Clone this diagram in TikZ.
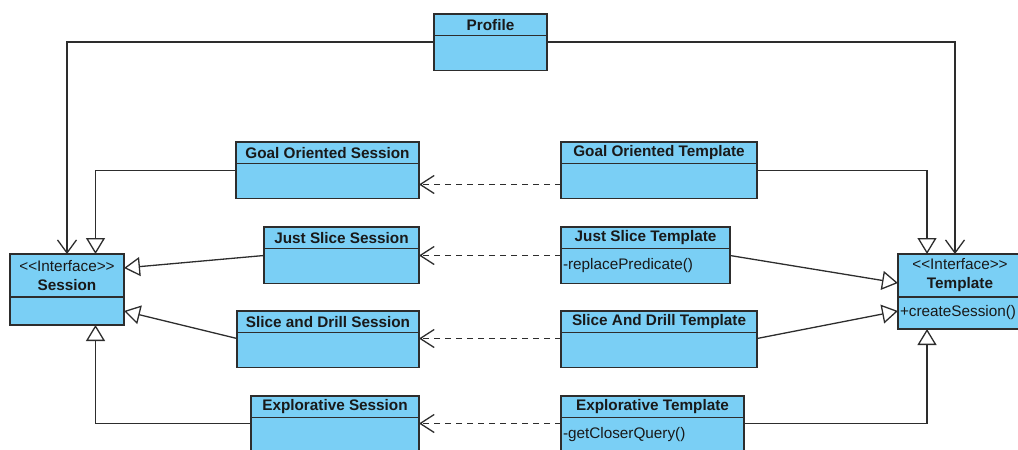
\documentclass[tikz,border=0pt]{standalone}
\usepackage{fontspec}
\setmainfont{Liberation Sans}
\usepackage{xcolor}
\usepackage{tikz}
\usetikzlibrary{positioning,arrows.meta}

\definecolor{umlfill}{RGB}{122,207,245}
\definecolor{umlline}{RGB}{45,45,45}
\definecolor{umltext}{RGB}{25,25,25}

\begin{document}
\begin{tikzpicture}[x=1pt, y=-1pt,
  every node/.style={font=\fontsize{15.3}{17}\selectfont, text=umltext},
  hdr/.style={draw=umlline, fill=umlfill, line width=1.4pt, outer sep=0pt,
              inner sep=0pt, anchor=north west, minimum width=#1,
              minimum height=21.5pt, font=\fontsize{15.3}{17}\selectfont\bfseries},
  bdy/.style={draw=umlline, fill=umlfill, line width=1.4pt, outer sep=0pt,
              inner sep=0pt, minimum width=#1, minimum height=35pt},
  ops/.style={inner xsep=2pt, text width=#1, align=left},
  link/.style={draw=umlline, line width=1.3pt},
  gen/.style={link, -{Triangle[open, fill=white, length=16pt, width=19pt]}},
  assoc/.style={link, -{Straight Barb[length=13pt, width=19pt]}},
  dep/.style={link, dash pattern=on 6pt off 5pt, -{Straight Barb[length=14pt, width=18pt]}},
]
\useasboundingbox (0,0) rectangle (1018,450);

% interfaces
\node[hdr=114pt, minimum height=43pt, align=center, inner sep=0pt] (ses) at (10,254)
  {\mdseries <\kern0pt<Interface>\kern0pt>\\[2pt]Session};
\node[bdy=114pt, minimum height=28pt, below=0pt of ses] (sesB) {};
\node[hdr=124pt, minimum height=43pt, align=center] (tpl) at (898,254)
  {\mdseries <\kern0pt<Interface>\kern0pt>\\[2pt]Template};
\node[bdy=124pt, minimum height=32pt, ops=120pt, below=0pt of tpl] (tplB) {+createSession()};

% profile
\node[hdr=113pt] (prof) at (434,14) {Profile};
\node[bdy=113pt, below=0pt of prof] (profB) {};

% sessions
\node[hdr=183pt] (gos) at (236,142) {Goal Oriented Session};
\node[bdy=183pt, below=0pt of gos] (gosB) {};
\node[hdr=155pt] (jss) at (264,227) {Just Slice Session};
\node[bdy=155pt, below=0pt of jss] (jssB) {};
\node[hdr=182pt] (sds) at (237,311) {Slice and Drill Session};
\node[bdy=182pt, below=0pt of sds] (sdsB) {};
\node[hdr=168pt] (exs) at (251,396) {Explorative Session};
\node[bdy=168pt, below=0pt of exs] (exsB) {};

% templates
\node[hdr=196pt] (got) at (561,142) {Goal Oriented Template};
\node[bdy=196pt, below=0pt of got] (gotB) {};
\node[hdr=169pt] (jst) at (561,227) {Just Slice Template};
\node[bdy=169pt, ops=165pt, below=0pt of jst] (jstB) {-replacePredicate()};
\node[hdr=196pt] (sdt) at (561,311) {Slice And Drill Template};
\node[bdy=196pt, below=0pt of sdt] (sdtB) {};
\node[hdr=183pt] (ext) at (561,396) {Explorative Template};
\node[bdy=183pt, ops=179pt, below=0pt of ext] (extB) {-getCloserQuery()};

% profile associations
\draw[assoc] ([yshift=11pt]profB.west) -| (ses.north);
\draw[assoc] ([yshift=11pt]profB.east) -| ([xshift=57pt]tpl.north west);

% realizations
\draw[gen] ([yshift=10.5pt]gosB.west) -| ([xshift=85.5pt]ses.north west);
\draw[gen] ([yshift=10.5pt]jssB.west) -- ([yshift=7.5pt]ses.east);
\draw[gen] ([yshift=11.5pt]sdsB.west) -- (sesB.west -| sesB.east);
\draw[gen] ([yshift=11.5pt]exsB.west) -| ([xshift=85.5pt]sesB.south west);
\draw[gen] ([yshift=10.5pt]gotB.east) -| ([xshift=29pt]tpl.north west);
\draw[gen] ([yshift=10.5pt]jstB.east) -- ([yshift=-7.5pt]tpl.west);
\draw[gen] ([yshift=11.5pt]sdtB.east) -- ([yshift=2pt]tplB.west);
\draw[gen] ([yshift=11.5pt]extB.east) -| ([xshift=29pt]tplB.south west);

% template -> session dependencies
\draw[dep] ([yshift=-3.5pt]gotB.west) -- ([yshift=-3.5pt]gosB.east);
\draw[dep] ([yshift=10.5pt]jstB.west) -- ([yshift=10.5pt]jssB.east);
\draw[dep] ([yshift=11.5pt]sdtB.west) -- ([yshift=11.5pt]sdsB.east);
\draw[dep] ([yshift=11.5pt]extB.west) -- ([yshift=11.5pt]exsB.east);
\end{tikzpicture}
\end{document}
